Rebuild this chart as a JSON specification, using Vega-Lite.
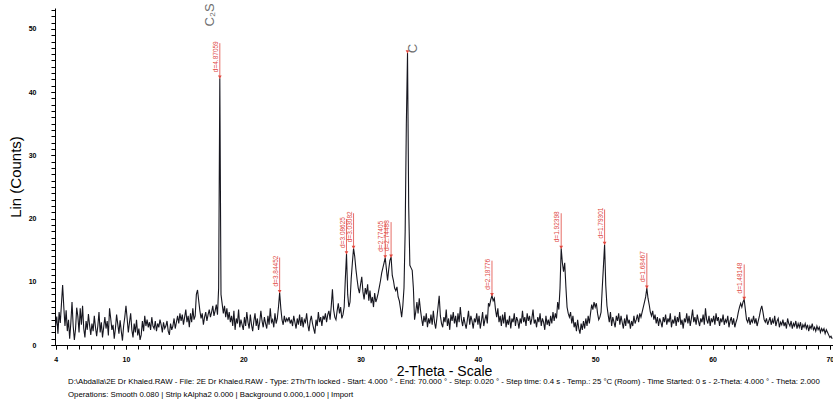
{
"$schema":"https://vega.github.io/schema/vega-lite/v6.json",
"width":778,"height":337,
"autosize":{"type":"none"},
"padding":{"left":55,"top":8,"right":0,"bottom":57},
"background":"white",
"config":{"view":{"stroke":null},"font":"Liberation Sans"},
"title":{"text":["D:\\Abdalla\\2E Dr Khaled.RAW - File: 2E Dr Khaled.RAW - Type: 2Th/Th locked - Start: 4.000 ° - End: 70.000 ° - Step: 0.020 ° - Step time: 0.4 s - Temp.: 25 °C (Room) - Time Started: 0 s - 2-Theta: 4.000 ° - Theta: 2.000","Operations: Smooth 0.080 | Strip kAlpha2 0.000 | Background 0.000,1.000 | Import"],"orient":"bottom","anchor":"start","frame":"group","fontSize":7.8,"fontWeight":"normal","color":"black","dx":13,"offset":0,"lineHeight":12.5},
"resolve":{"axis":{"x":"independent","y":"independent"}},
"datasets":{
"scan":[
{"t":4.0,"c":3.0},{"t":4.1,"c":4.5},{"t":4.2,"c":1.8},{"t":4.3,"c":5.2},{"t":4.4,"c":3.5},{"t":4.5,"c":6.5},{"t":4.6,"c":9.5},{"t":4.7,"c":6.0},{"t":4.8,"c":3.0},{"t":4.9,"c":5.5},
{"t":5.0,"c":2.2},{"t":5.1,"c":4.0},{"t":5.2,"c":1.0},{"t":5.3,"c":3.5},{"t":5.4,"c":6.8},{"t":5.5,"c":3.0},{"t":5.6,"c":0.8},{"t":5.7,"c":2.5},{"t":5.8,"c":5.9},{"t":5.9,"c":4.5},
{"t":6.0,"c":2.0},{"t":6.1,"c":5.8},{"t":6.2,"c":3.2},{"t":6.3,"c":6.2},{"t":6.4,"c":2.6},{"t":6.5,"c":1.2},{"t":6.6,"c":3.8},{"t":6.7,"c":2.4},{"t":6.8,"c":4.9},{"t":6.9,"c":3.1},
{"t":7.0,"c":1.6},{"t":7.1,"c":3.4},{"t":7.2,"c":2.2},{"t":7.3,"c":4.6},{"t":7.4,"c":2.8},{"t":7.5,"c":1.4},{"t":7.6,"c":3.0},{"t":7.7,"c":5.2},{"t":7.8,"c":2.0},{"t":7.9,"c":3.6},
{"t":8.0,"c":1.2},{"t":8.1,"c":2.8},{"t":8.2,"c":4.4},{"t":8.3,"c":2.6},{"t":8.4,"c":3.8},{"t":8.5,"c":1.5},{"t":8.6,"c":5.8},{"t":8.7,"c":4.2},{"t":8.8,"c":2.4},{"t":8.9,"c":3.2},
{"t":9.0,"c":1.0},{"t":9.1,"c":2.6},{"t":9.2,"c":4.8},{"t":9.3,"c":3.3},{"t":9.4,"c":1.8},{"t":9.5,"c":3.9},{"t":9.6,"c":2.2},{"t":9.7,"c":0.7},{"t":9.8,"c":3.0},{"t":9.9,"c":4.4},
{"t":10.0,"c":6.2},{"t":10.1,"c":4.2},{"t":10.2,"c":2.0},{"t":10.3,"c":3.6},{"t":10.4,"c":5.0},{"t":10.5,"c":2.4},{"t":10.6,"c":1.2},{"t":10.7,"c":3.4},{"t":10.8,"c":2.0},{"t":10.9,"c":4.0},
{"t":11.0,"c":1.5},{"t":11.1,"c":2.6},{"t":11.2,"c":0.8},{"t":11.3,"c":1.6},{"t":11.4,"c":3.8},{"t":11.5,"c":2.2},{"t":11.6,"c":4.6},{"t":11.7,"c":3.0},{"t":11.8,"c":4.0},{"t":11.9,"c":2.8},
{"t":12.0,"c":3.6},{"t":12.1,"c":2.4},{"t":12.2,"c":4.4},{"t":12.3,"c":3.0},{"t":12.4,"c":2.6},{"t":12.5,"c":3.8},{"t":12.6,"c":2.2},{"t":12.7,"c":3.4},{"t":12.8,"c":2.8},{"t":12.9,"c":4.0},
{"t":13.0,"c":3.2},{"t":13.1,"c":2.0},{"t":13.2,"c":3.6},{"t":13.3,"c":2.6},{"t":13.4,"c":3.0},{"t":13.5,"c":3.8},{"t":13.6,"c":2.2},{"t":13.7,"c":1.6},{"t":13.8,"c":3.4},{"t":13.9,"c":2.4},
{"t":14.0,"c":3.0},{"t":14.1,"c":4.2},{"t":14.2,"c":2.6},{"t":14.3,"c":3.6},{"t":14.4,"c":4.6},{"t":14.5,"c":3.4},{"t":14.6,"c":5.0},{"t":14.7,"c":3.8},{"t":14.8,"c":4.8},{"t":14.9,"c":3.2},
{"t":15.0,"c":4.4},{"t":15.1,"c":5.6},{"t":15.2,"c":3.6},{"t":15.3,"c":4.6},{"t":15.4,"c":2.8},{"t":15.5,"c":5.0},{"t":15.6,"c":3.6},{"t":15.7,"c":5.8},{"t":15.8,"c":4.0},{"t":15.9,"c":4.6},
{"t":16.0,"c":8.0},{"t":16.1,"c":8.7},{"t":16.2,"c":7.0},{"t":16.3,"c":5.4},{"t":16.4,"c":4.2},{"t":16.5,"c":5.0},{"t":16.6,"c":3.2},{"t":16.7,"c":4.4},{"t":16.8,"c":5.2},{"t":16.9,"c":3.8},
{"t":17.0,"c":4.8},{"t":17.1,"c":5.6},{"t":17.2,"c":4.4},{"t":17.3,"c":5.2},{"t":17.4,"c":6.2},{"t":17.5,"c":4.6},{"t":17.6,"c":5.4},{"t":17.7,"c":6.4},{"t":17.8,"c":4.8},{"t":17.9,"c":9.0},
{"t":18.0,"c":42.2},{"t":18.1,"c":8.0},{"t":18.2,"c":6.5},{"t":18.3,"c":5.0},{"t":18.4,"c":6.2},{"t":18.5,"c":4.4},{"t":18.6,"c":5.8},{"t":18.7,"c":4.0},{"t":18.8,"c":5.2},{"t":18.9,"c":3.6},
{"t":19.0,"c":4.6},{"t":19.1,"c":3.0},{"t":19.2,"c":5.4},{"t":19.3,"c":2.4},{"t":19.4,"c":4.2},{"t":19.5,"c":3.4},{"t":19.6,"c":5.6},{"t":19.7,"c":2.8},{"t":19.8,"c":4.0},{"t":19.9,"c":3.2},
{"t":20.0,"c":2.4},{"t":20.1,"c":4.4},{"t":20.2,"c":3.0},{"t":20.3,"c":5.2},{"t":20.4,"c":3.6},{"t":20.5,"c":2.6},{"t":20.6,"c":4.8},{"t":20.7,"c":3.2},{"t":20.8,"c":2.2},{"t":20.9,"c":3.8},
{"t":21.0,"c":5.0},{"t":21.1,"c":3.0},{"t":21.2,"c":4.2},{"t":21.3,"c":2.4},{"t":21.4,"c":3.6},{"t":21.5,"c":5.4},{"t":21.6,"c":3.8},{"t":21.7,"c":2.8},{"t":21.8,"c":4.4},{"t":21.9,"c":3.4},
{"t":22.0,"c":2.6},{"t":22.1,"c":4.6},{"t":22.2,"c":3.2},{"t":22.3,"c":5.8},{"t":22.4,"c":3.6},{"t":22.5,"c":4.0},{"t":22.6,"c":2.8},{"t":22.7,"c":5.0},{"t":22.8,"c":3.4},{"t":22.9,"c":4.2},
{"t":23.0,"c":6.0},{"t":23.1,"c":8.3},{"t":23.2,"c":5.8},{"t":23.3,"c":4.0},{"t":23.4,"c":3.2},{"t":23.5,"c":4.6},{"t":23.6,"c":3.6},{"t":23.7,"c":4.2},{"t":23.8,"c":3.8},{"t":23.9,"c":4.4},
{"t":24.0,"c":3.4},{"t":24.1,"c":4.0},{"t":24.2,"c":3.0},{"t":24.3,"c":4.6},{"t":24.4,"c":3.6},{"t":24.5,"c":2.6},{"t":24.6,"c":4.2},{"t":24.7,"c":3.2},{"t":24.8,"c":4.8},{"t":24.9,"c":3.0},
{"t":25.0,"c":4.4},{"t":25.1,"c":2.8},{"t":25.2,"c":4.0},{"t":25.3,"c":3.6},{"t":25.4,"c":5.0},{"t":25.5,"c":3.2},{"t":25.6,"c":2.2},{"t":25.7,"c":3.8},{"t":25.8,"c":4.6},{"t":25.9,"c":3.4},
{"t":26.0,"c":2.6},{"t":26.1,"c":1.8},{"t":26.2,"c":4.0},{"t":26.3,"c":3.0},{"t":26.4,"c":5.2},{"t":26.5,"c":3.6},{"t":26.6,"c":4.4},{"t":26.7,"c":3.0},{"t":26.8,"c":4.6},{"t":26.9,"c":4.0},
{"t":27.0,"c":5.0},{"t":27.1,"c":3.6},{"t":27.2,"c":4.8},{"t":27.3,"c":5.4},{"t":27.4,"c":4.0},{"t":27.5,"c":6.2},{"t":27.6,"c":8.8},{"t":27.7,"c":5.6},{"t":27.8,"c":4.4},{"t":27.9,"c":4.0},
{"t":28.0,"c":5.4},{"t":28.1,"c":6.6},{"t":28.2,"c":5.0},{"t":28.3,"c":6.0},{"t":28.4,"c":4.2},{"t":28.5,"c":4.8},{"t":28.6,"c":6.0},{"t":28.7,"c":10.5},{"t":28.8,"c":14.4},{"t":28.9,"c":8.0},
{"t":29.0,"c":6.0},{"t":29.1,"c":6.8},{"t":29.2,"c":10.5},{"t":29.3,"c":13.0},{"t":29.4,"c":15.3},{"t":29.5,"c":14.0},{"t":29.6,"c":12.0},{"t":29.7,"c":10.4},{"t":29.8,"c":9.0},{"t":29.9,"c":8.2},
{"t":30.0,"c":9.6},{"t":30.1,"c":10.8},{"t":30.2,"c":8.4},{"t":30.3,"c":7.2},{"t":30.4,"c":9.0},{"t":30.5,"c":8.0},{"t":30.6,"c":9.6},{"t":30.7,"c":7.0},{"t":30.8,"c":8.6},{"t":30.9,"c":6.6},
{"t":31.0,"c":7.6},{"t":31.1,"c":6.0},{"t":31.2,"c":8.2},{"t":31.3,"c":6.8},{"t":31.4,"c":7.4},{"t":31.5,"c":8.2},{"t":31.6,"c":9.2},{"t":31.7,"c":10.2},{"t":31.8,"c":11.4},{"t":31.9,"c":12.2},
{"t":32.0,"c":13.0},{"t":32.1,"c":13.8},{"t":32.2,"c":12.0},{"t":32.3,"c":10.2},{"t":32.4,"c":12.0},{"t":32.5,"c":13.4},{"t":32.6,"c":13.9},{"t":32.7,"c":11.0},{"t":32.8,"c":10.2},{"t":32.9,"c":9.0},
{"t":33.0,"c":8.6},{"t":33.1,"c":9.2},{"t":33.2,"c":7.6},{"t":33.3,"c":7.0},{"t":33.4,"c":5.8},{"t":33.5,"c":4.4},{"t":33.6,"c":6.2},{"t":33.7,"c":9.0},{"t":33.8,"c":18.0},{"t":33.9,"c":35.0},
{"t":34.0,"c":46.2},{"t":34.1,"c":22.0},{"t":34.2,"c":12.6},{"t":34.3,"c":12.2},{"t":34.4,"c":11.8},{"t":34.5,"c":9.0},{"t":34.6,"c":4.0},{"t":34.7,"c":5.2},{"t":34.8,"c":6.8},{"t":34.9,"c":5.0},
{"t":35.0,"c":7.4},{"t":35.1,"c":5.6},{"t":35.2,"c":4.2},{"t":35.3,"c":3.0},{"t":35.4,"c":4.6},{"t":35.5,"c":3.6},{"t":35.6,"c":5.0},{"t":35.7,"c":2.8},{"t":35.8,"c":4.2},{"t":35.9,"c":3.4},
{"t":36.0,"c":4.8},{"t":36.1,"c":3.2},{"t":36.2,"c":5.4},{"t":36.3,"c":3.6},{"t":36.4,"c":2.6},{"t":36.5,"c":4.2},{"t":36.6,"c":6.0},{"t":36.7,"c":7.8},{"t":36.8,"c":4.6},{"t":36.9,"c":3.4},
{"t":37.0,"c":2.8},{"t":37.1,"c":4.4},{"t":37.2,"c":3.6},{"t":37.3,"c":5.6},{"t":37.4,"c":3.0},{"t":37.5,"c":4.2},{"t":37.6,"c":2.4},{"t":37.7,"c":4.8},{"t":37.8,"c":3.8},{"t":37.9,"c":5.2},
{"t":38.0,"c":3.4},{"t":38.1,"c":4.6},{"t":38.2,"c":2.8},{"t":38.3,"c":5.0},{"t":38.4,"c":3.6},{"t":38.5,"c":6.0},{"t":38.6,"c":4.0},{"t":38.7,"c":3.0},{"t":38.8,"c":4.4},{"t":38.9,"c":3.4},
{"t":39.0,"c":2.6},{"t":39.1,"c":4.0},{"t":39.2,"c":5.4},{"t":39.3,"c":3.2},{"t":39.4,"c":4.6},{"t":39.5,"c":3.8},{"t":39.6,"c":2.6},{"t":39.7,"c":4.2},{"t":39.8,"c":3.6},{"t":39.9,"c":5.0},
{"t":40.0,"c":3.2},{"t":40.1,"c":4.6},{"t":40.2,"c":2.6},{"t":40.3,"c":3.8},{"t":40.4,"c":5.2},{"t":40.5,"c":3.0},{"t":40.6,"c":4.0},{"t":40.7,"c":4.8},{"t":40.8,"c":3.4},{"t":40.9,"c":6.6},
{"t":41.0,"c":6.2},{"t":41.1,"c":7.2},{"t":41.2,"c":7.8},{"t":41.3,"c":7.0},{"t":41.4,"c":7.4},{"t":41.5,"c":5.6},{"t":41.6,"c":4.4},{"t":41.7,"c":5.8},{"t":41.8,"c":3.6},{"t":41.9,"c":4.6},
{"t":42.0,"c":3.0},{"t":42.1,"c":4.8},{"t":42.2,"c":3.4},{"t":42.3,"c":5.2},{"t":42.4,"c":2.8},{"t":42.5,"c":4.0},{"t":42.6,"c":3.2},{"t":42.7,"c":4.6},{"t":42.8,"c":2.6},{"t":42.9,"c":4.2},
{"t":43.0,"c":3.6},{"t":43.1,"c":5.0},{"t":43.2,"c":3.0},{"t":43.3,"c":4.4},{"t":43.4,"c":3.8},{"t":43.5,"c":2.6},{"t":43.6,"c":4.2},{"t":43.7,"c":3.4},{"t":43.8,"c":5.4},{"t":43.9,"c":3.6},
{"t":44.0,"c":4.4},{"t":44.1,"c":3.0},{"t":44.2,"c":5.0},{"t":44.3,"c":3.8},{"t":44.4,"c":4.6},{"t":44.5,"c":3.2},{"t":44.6,"c":4.2},{"t":44.7,"c":5.6},{"t":44.8,"c":3.4},{"t":44.9,"c":4.0},
{"t":45.0,"c":2.8},{"t":45.1,"c":4.4},{"t":45.2,"c":3.6},{"t":45.3,"c":5.0},{"t":45.4,"c":3.0},{"t":45.5,"c":4.2},{"t":45.6,"c":3.6},{"t":45.7,"c":2.4},{"t":45.8,"c":4.6},{"t":45.9,"c":3.2},
{"t":46.0,"c":4.0},{"t":46.1,"c":3.0},{"t":46.2,"c":4.6},{"t":46.3,"c":3.4},{"t":46.4,"c":5.2},{"t":46.5,"c":3.8},{"t":46.6,"c":5.0},{"t":46.7,"c":4.2},{"t":46.8,"c":6.8},{"t":46.9,"c":5.6},
{"t":47.0,"c":9.0},{"t":47.1,"c":15.3},{"t":47.2,"c":13.0},{"t":47.3,"c":11.6},{"t":47.4,"c":13.0},{"t":47.5,"c":9.2},{"t":47.6,"c":6.0},{"t":47.7,"c":5.0},{"t":47.8,"c":4.4},{"t":47.9,"c":5.2},
{"t":48.0,"c":3.4},{"t":48.1,"c":4.6},{"t":48.2,"c":2.8},{"t":48.3,"c":3.6},{"t":48.4,"c":2.2},{"t":48.5,"c":4.0},{"t":48.6,"c":2.6},{"t":48.7,"c":1.8},{"t":48.8,"c":3.4},{"t":48.9,"c":2.4},
{"t":49.0,"c":3.8},{"t":49.1,"c":2.6},{"t":49.2,"c":4.2},{"t":49.3,"c":3.0},{"t":49.4,"c":4.6},{"t":49.5,"c":3.4},{"t":49.6,"c":5.0},{"t":49.7,"c":6.4},{"t":49.8,"c":5.6},{"t":49.9,"c":6.8},
{"t":50.0,"c":6.0},{"t":50.1,"c":6.6},{"t":50.2,"c":5.0},{"t":50.3,"c":4.0},{"t":50.4,"c":4.4},{"t":50.5,"c":5.2},{"t":50.6,"c":9.0},{"t":50.7,"c":12.4},{"t":50.8,"c":15.9},{"t":50.9,"c":9.4},
{"t":51.0,"c":6.2},{"t":51.1,"c":4.8},{"t":51.2,"c":3.6},{"t":51.3,"c":5.2},{"t":51.4,"c":3.0},{"t":51.5,"c":4.4},{"t":51.6,"c":3.6},{"t":51.7,"c":2.8},{"t":51.8,"c":4.6},{"t":51.9,"c":3.8},
{"t":52.0,"c":5.0},{"t":52.1,"c":3.2},{"t":52.2,"c":4.6},{"t":52.3,"c":3.6},{"t":52.4,"c":2.6},{"t":52.5,"c":4.2},{"t":52.6,"c":3.0},{"t":52.7,"c":4.8},{"t":52.8,"c":3.4},{"t":52.9,"c":4.0},
{"t":53.0,"c":2.6},{"t":53.1,"c":3.8},{"t":53.2,"c":3.0},{"t":53.3,"c":4.6},{"t":53.4,"c":3.4},{"t":53.5,"c":4.0},{"t":53.6,"c":4.8},{"t":53.7,"c":3.6},{"t":53.8,"c":5.0},{"t":53.9,"c":4.4},
{"t":54.0,"c":5.2},{"t":54.1,"c":6.0},{"t":54.2,"c":6.8},{"t":54.3,"c":7.6},{"t":54.4,"c":9.0},{"t":54.5,"c":7.4},{"t":54.6,"c":6.4},{"t":54.7,"c":5.2},{"t":54.8,"c":4.6},{"t":54.9,"c":5.4},
{"t":55.0,"c":4.0},{"t":55.1,"c":4.8},{"t":55.2,"c":3.4},{"t":55.3,"c":4.4},{"t":55.4,"c":3.0},{"t":55.5,"c":4.2},{"t":55.6,"c":3.6},{"t":55.7,"c":2.8},{"t":55.8,"c":4.4},{"t":55.9,"c":3.6},
{"t":56.0,"c":4.8},{"t":56.1,"c":3.2},{"t":56.2,"c":4.2},{"t":56.3,"c":3.6},{"t":56.4,"c":5.0},{"t":56.5,"c":2.8},{"t":56.6,"c":4.0},{"t":56.7,"c":3.4},{"t":56.8,"c":4.6},{"t":56.9,"c":3.0},
{"t":57.0,"c":4.4},{"t":57.1,"c":3.6},{"t":57.2,"c":5.2},{"t":57.3,"c":3.2},{"t":57.4,"c":4.0},{"t":57.5,"c":2.6},{"t":57.6,"c":4.2},{"t":57.7,"c":3.6},{"t":57.8,"c":5.0},{"t":57.9,"c":3.4},
{"t":58.0,"c":4.6},{"t":58.1,"c":3.0},{"t":58.2,"c":4.2},{"t":58.3,"c":5.6},{"t":58.4,"c":3.6},{"t":58.5,"c":4.4},{"t":58.6,"c":3.2},{"t":58.7,"c":4.8},{"t":58.8,"c":3.8},{"t":58.9,"c":3.0},
{"t":59.0,"c":4.2},{"t":59.1,"c":3.6},{"t":59.2,"c":4.8},{"t":59.3,"c":3.2},{"t":59.4,"c":5.8},{"t":59.5,"c":4.0},{"t":59.6,"c":3.4},{"t":59.7,"c":4.6},{"t":59.8,"c":3.0},{"t":59.9,"c":4.2},
{"t":60.0,"c":3.6},{"t":60.1,"c":4.6},{"t":60.2,"c":3.2},{"t":60.3,"c":5.0},{"t":60.4,"c":3.8},{"t":60.5,"c":4.4},{"t":60.6,"c":3.0},{"t":60.7,"c":4.2},{"t":60.8,"c":3.6},{"t":60.9,"c":4.8},
{"t":61.0,"c":3.2},{"t":61.1,"c":4.0},{"t":61.2,"c":3.6},{"t":61.3,"c":4.6},{"t":61.4,"c":2.8},{"t":61.5,"c":3.8},{"t":61.6,"c":4.4},{"t":61.7,"c":3.2},{"t":61.8,"c":4.2},{"t":61.9,"c":2.8},
{"t":62.0,"c":3.6},{"t":62.1,"c":4.2},{"t":62.2,"c":5.2},{"t":62.3,"c":6.0},{"t":62.4,"c":6.6},{"t":62.5,"c":6.0},{"t":62.6,"c":6.8},{"t":62.7,"c":7.2},{"t":62.8,"c":5.6},{"t":62.9,"c":4.0},
{"t":63.0,"c":3.6},{"t":63.1,"c":4.4},{"t":63.2,"c":3.2},{"t":63.3,"c":4.0},{"t":63.4,"c":3.6},{"t":63.5,"c":4.6},{"t":63.6,"c":3.4},{"t":63.7,"c":4.2},{"t":63.8,"c":3.0},{"t":63.9,"c":3.8},
{"t":64.0,"c":4.6},{"t":64.1,"c":5.6},{"t":64.2,"c":6.2},{"t":64.3,"c":5.2},{"t":64.4,"c":4.0},{"t":64.5,"c":3.6},{"t":64.6,"c":4.2},{"t":64.7,"c":3.2},{"t":64.8,"c":3.8},{"t":64.9,"c":4.4},
{"t":65.0,"c":3.2},{"t":65.1,"c":4.0},{"t":65.2,"c":3.4},{"t":65.3,"c":4.6},{"t":65.4,"c":3.0},{"t":65.5,"c":3.8},{"t":65.6,"c":4.2},{"t":65.7,"c":2.8},{"t":65.8,"c":3.6},{"t":65.9,"c":3.2},
{"t":66.0,"c":4.0},{"t":66.1,"c":3.0},{"t":66.2,"c":3.6},{"t":66.3,"c":2.6},{"t":66.4,"c":4.2},{"t":66.5,"c":3.4},{"t":66.6,"c":3.0},{"t":66.7,"c":3.8},{"t":66.8,"c":2.6},{"t":66.9,"c":3.4},
{"t":67.0,"c":3.0},{"t":67.1,"c":3.8},{"t":67.2,"c":2.6},{"t":67.3,"c":3.4},{"t":67.4,"c":2.8},{"t":67.5,"c":3.6},{"t":67.6,"c":2.4},{"t":67.7,"c":3.2},{"t":67.8,"c":2.8},{"t":67.9,"c":3.4},
{"t":68.0,"c":2.6},{"t":68.1,"c":3.2},{"t":68.2,"c":2.2},{"t":68.3,"c":3.0},{"t":68.4,"c":2.6},{"t":68.5,"c":3.4},{"t":68.6,"c":2.4},{"t":68.7,"c":2.8},{"t":68.8,"c":2.2},{"t":68.9,"c":3.0},
{"t":69.0,"c":2.4},{"t":69.1,"c":2.8},{"t":69.2,"c":2.0},{"t":69.3,"c":2.6},{"t":69.4,"c":2.2},{"t":69.5,"c":2.6},{"t":69.6,"c":1.8},{"t":69.7,"c":2.4},{"t":69.8,"c":2.0},{"t":69.9,"c":1.6},
{"t":70.0,"c":1.2},{"t":70.1,"c":1.4},{"t":70.2,"c":1.0}
],
"peaks":[
{"t":18.0,"c":42.2,"d":"d=4.87059"},
{"t":23.1,"c":8.3,"d":"d=3.84452"},
{"t":28.8,"c":14.4,"d":"d=3.08625"},
{"t":29.4,"c":15.3,"d":"d=3.03082"},
{"t":32.1,"c":13.8,"d":"d=2.77405"},
{"t":32.6,"c":13.9,"d":"d=2.74488"},
{"t":34.0,"c":46.2,"d":""},
{"t":41.2,"c":7.8,"d":"d=2.18776"},
{"t":47.1,"c":15.3,"d":"d=1.92398"},
{"t":50.8,"c":15.9,"d":"d=1.79301"},
{"t":54.4,"c":9.0,"d":"d=1.68467"},
{"t":62.7,"c":7.2,"d":"d=1.48148"}
],
"notes":[
{"t":17.15,"c":52.2,"txt":"C₂S"},
{"t":34.5,"c":46.9,"txt":"C"}
]
},
"layer":[
{"data":{"name":"scan"},
 "mark":{"type":"line","color":"#16161f","strokeWidth":1.1,"clip":true},
 "encoding":{
  "x":{"field":"t","type":"quantitative","scale":{"domain":[3.95,70.27],"nice":false,"zero":false},
   "axis":{"orient":"bottom","values":[4,5,6,7,8,9,10,11,12,13,14,15,16,17,18,19,20,21,22,23,24,25,26,27,28,29,30,31,32,33,34,35,36,37,38,39,40,41,42,43,44,45,46,47,48,49,50,51,52,53,54,55,56,57,58,59,60,61,62,63,64,65,66,67,68,69,70],
    "labels":false,"title":null,"tickSize":4,"tickColor":"black","domainColor":"black","grid":false}},
  "y":{"field":"c","type":"quantitative","scale":{"domain":[0,53.3],"nice":false},
   "axis":{"orient":"left","values":[0,1,2,3,4,5,6,7,8,9,10,11,12,13,14,15,16,17,18,19,20,21,22,23,24,25,26,27,28,29,30,31,32,33,34,35,36,37,38,39,40,41,42,43,44,45,46,47,48,49,50,51,52,53],
    "labels":false,"title":null,"tickSize":4,"tickColor":"black","domainColor":"black","grid":false}}
 }},
{"data":{"name":"peaks"},"transform":[{"filter":"datum.d != ''"}],
 "mark":{"type":"rule","color":"#e0483f","strokeWidth":0.8,"y2Offset":-35},
 "encoding":{"x":{"field":"t","type":"quantitative","axis":null},"y":{"field":"c","type":"quantitative","axis":null},"y2":{"field":"c"}}},
{"data":{"name":"peaks"},"transform":[{"filter":"datum.d != ''"}],
 "mark":{"type":"text","color":"#e0483f","fontSize":6.5,"angle":270,"align":"left","baseline":"bottom","dx":6,"dy":-1},
 "encoding":{"x":{"field":"t","type":"quantitative","axis":null},"y":{"field":"c","type":"quantitative","axis":null},"text":{"field":"d"}}},
{"data":{"name":"peaks"},
 "mark":{"type":"point","shape":"triangle-down","filled":true,"color":"#e0483f","size":14,"opacity":1,"yOffset":-1},
 "encoding":{
  "x":{"field":"t","type":"quantitative",
   "axis":{"orient":"bottom","values":[4,10,20,30,40,50,60,70],"title":"2-Theta - Scale","titleFontSize":14,"titleFontWeight":"normal","titleColor":"black","titlePadding":2,
    "labelFontSize":7,"labelFontWeight":"bold","labelColor":"black","labelPadding":6,"labelFlush":false,"labelOverlap":false,"labelBound":false,
    "tickSize":4,"tickColor":"black","domain":false,"grid":false}},
  "y":{"field":"c","type":"quantitative",
   "axis":{"orient":"left","values":[0,10,20,30,40,50],"title":"Lin (Counts)","titleFontSize":15,"titleFontWeight":"normal","titleColor":"black","titlePadding":5,
    "labelFontSize":7,"labelFontWeight":"bold","labelColor":"black","labelPadding":15,"labelOverlap":false,
    "tickSize":4,"tickColor":"black","domain":false,"grid":false}}}},
{"data":{"name":"notes"},
 "mark":{"type":"text","color":"#6e6e6e","fontSize":13,"angle":270,"align":"center","baseline":"middle"},
 "encoding":{"x":{"field":"t","type":"quantitative","axis":null},"y":{"field":"c","type":"quantitative","axis":null},"text":{"field":"txt"}}}
]
}
